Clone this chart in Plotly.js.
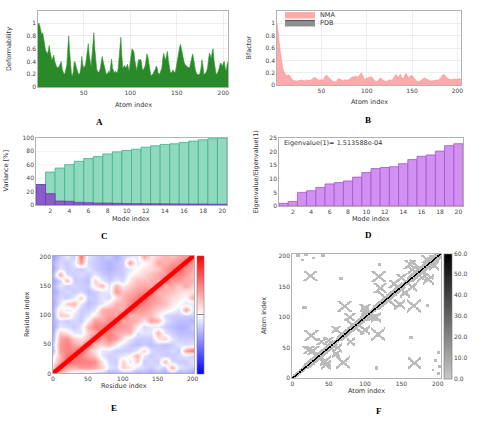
<!DOCTYPE html>
<html><head><meta charset="utf-8">
<script src="https://cdn.plot.ly/plotly-3.0.1.min.js"></script>
<style>html,body{margin:0;padding:0;background:#fff;}#chart{width:485px;height:423px;}</style>
</head><body><div id="chart"></div>
<script>
// ---------- Panel A: deformability per atom ----------
const deformability = [
 0.97,1.0,0.95,0.88,0.82,0.85,0.78,0.68,0.58,0.53,
 0.52,0.56,0.65,0.55,0.47,0.42,0.46,0.5,0.4,0.35,
 0.32,0.3,0.31,0.33,0.37,0.4,0.28,0.22,0.2,0.22,
 0.28,0.35,0.6,0.8,0.55,0.3,0.2,0.18,0.25,0.4,
 0.38,0.32,0.25,0.22,0.2,0.22,0.3,0.48,0.36,0.3,
 0.32,0.35,0.45,0.6,0.68,0.5,0.38,0.32,0.5,0.7,
 0.85,0.6,0.42,0.28,0.25,0.23,0.25,0.3,0.4,0.48,
 0.4,0.32,0.27,0.22,0.2,0.22,0.25,0.22,0.3,0.44,
 0.3,0.24,0.22,0.25,0.24,0.22,0.28,0.45,0.7,0.78,
 0.5,0.3,0.32,0.34,0.3,0.32,0.36,0.28,0.25,0.4,
 0.52,0.6,0.58,0.55,0.42,0.3,0.26,0.35,0.43,0.42,
 0.44,0.4,0.28,0.27,0.3,0.33,0.42,0.52,0.47,0.35,
 0.25,0.2,0.18,0.2,0.22,0.26,0.28,0.33,0.3,0.22,
 0.2,0.22,0.25,0.3,0.45,0.53,0.46,0.42,0.5,0.56,
 0.42,0.3,0.24,0.22,0.25,0.27,0.24,0.22,0.28,0.38,
 0.48,0.55,0.62,0.67,0.6,0.5,0.42,0.38,0.35,0.34,
 0.33,0.32,0.3,0.32,0.38,0.45,0.52,0.45,0.33,0.27,
 0.22,0.2,0.19,0.2,0.22,0.3,0.43,0.35,0.2,0.21,
 0.22,0.25,0.3,0.42,0.53,0.5,0.45,0.55,0.6,0.42,
 0.3,0.22,0.2,0.23,0.27,0.33,0.38,0.36,0.32,0.38,
 0.4,0.3,0.25,0.35,0.4];
// ---------- Panel B: B-factors ----------
const bfactorNMA = [
 1.0,0.9,0.75,0.6,0.48,0.38,0.3,0.24,0.2,0.18,
 0.16,0.15,0.16,0.17,0.15,0.12,0.1,0.085,0.075,0.07,
 0.07,0.065,0.065,0.07,0.075,0.085,0.09,0.085,0.075,0.07,
 0.065,0.07,0.08,0.085,0.08,0.075,0.075,0.08,0.09,0.1,
 0.115,0.125,0.12,0.11,0.09,0.08,0.08,0.085,0.09,0.09,
 0.085,0.09,0.11,0.14,0.16,0.155,0.14,0.12,0.1,0.09,
 0.085,0.07,0.06,0.055,0.05,0.055,0.07,0.09,0.11,0.1,
 0.09,0.08,0.07,0.07,0.08,0.09,0.085,0.08,0.085,0.09,
 0.1,0.11,0.12,0.13,0.14,0.13,0.14,0.15,0.14,0.13,
 0.14,0.16,0.19,0.2,0.17,0.12,0.1,0.09,0.1,0.12,
 0.13,0.13,0.12,0.13,0.14,0.12,0.1,0.08,0.07,0.06,
 0.055,0.06,0.08,0.1,0.12,0.11,0.09,0.08,0.07,0.065,
 0.06,0.065,0.07,0.08,0.09,0.08,0.075,0.08,0.1,0.12,
 0.15,0.17,0.16,0.14,0.12,0.15,0.18,0.14,0.12,0.1,
 0.12,0.16,0.19,0.17,0.14,0.12,0.13,0.15,0.16,0.15,
 0.13,0.11,0.09,0.08,0.07,0.06,0.055,0.06,0.07,0.08,
 0.09,0.1,0.11,0.12,0.11,0.1,0.09,0.08,0.075,0.07,
 0.07,0.065,0.07,0.075,0.08,0.085,0.09,0.085,0.08,0.09,
 0.1,0.12,0.15,0.17,0.18,0.16,0.14,0.12,0.11,0.1,
 0.095,0.09,0.085,0.09,0.095,0.1,0.1,0.1,0.095,0.1,
 0.1,0.1,0.1,0.1,0.1];
const atomIndex = deformability.map((_, i) => i + 1);
// PDB series: listed in the legend, no values visible in the reference (missing = null)
const bfactorPDB = atomIndex.map(() => null);
// ---------- Panels C and D: modes ----------
const modeIndex = [1,2,3,4,5,6,7,8,9,10,11,12,13,14,15,16,17,18,19,20];
const cumulativeVariance = [30.5,49,55,60,65,69,72,76,79,81,83,86,88,90,91,93,95,97,98.5,99.5];
const individualVariance = [30.5,17,6,5.5,4,3.5,3,3,2.5,2.3,2,2,1.9,1.8,1.7,1.6,1.5,1.5,1.3,1.2];
const eigenRatio = [1,1.7,5,5.6,6.8,8.1,8.6,9.2,10.6,12.3,13.7,14.1,14.4,15.5,17,18.2,18.7,20.1,22.1,22.8];
const eigenvalueNote = 'Eigenvalue(1)= 1.513588e-04';
// ---------- Panel E: residue cross-correlation (10-residue bins, lower triangle) ----------
const covBins = [0,10,20,30,40,50,60,70,80,90,100,110,120,130,140,150,160,170,180,190,200];
const covTriangle = [
 [0.6],
 [0.2,0.6],
 [0.05,0.35,0.6],
 [-0.1,0.3,0.55,0.6],
 [-0.3,0.4,0.5,0.5,0.6],
 [-0.2,0.4,0.5,0.35,0.3,0.6],
 [-0.3,0.35,0.45,0.2,0.1,0.25,0.6],
 [-0.3,0.2,0.1,-0.1,-0.1,0.2,0.35,0.6],
 [-0.35,-0.1,-0.15,-0.2,-0.1,0.3,0.5,0.5,0.6],
 [-0.3,-0.15,-0.2,-0.15,-0.2,0.05,0.4,0.35,0.45,0.6],
 [-0.35,0.2,0.2,-0.1,-0.2,-0.1,0.1,0.3,0.4,0.35,0.6],
 [-0.3,0.1,-0.1,0.0,-0.2,-0.2,-0.1,0.3,0.35,0.35,0.3,0.6],
 [-0.35,-0.1,0.2,0.3,-0.1,-0.25,-0.2,-0.1,0.1,0.3,0.3,0.45,0.6],
 [-0.3,-0.15,-0.2,-0.1,0.2,-0.2,-0.2,-0.1,-0.15,0.1,0.3,0.4,0.5,0.6],
 [-0.35,-0.2,-0.15,-0.2,-0.15,-0.25,-0.2,-0.1,-0.1,0.4,0.25,0.3,0.4,0.45,0.6],
 [-0.3,-0.1,-0.2,-0.15,-0.2,-0.2,0.1,0.3,-0.1,0.3,0.05,0.2,0.3,0.35,0.3,0.6],
 [-0.35,-0.2,0.3,-0.2,-0.2,-0.25,0.2,-0.1,-0.2,-0.1,-0.15,0.1,0.25,0.25,0.3,0.3,0.6],
 [-0.3,0.35,-0.15,-0.2,-0.15,-0.2,-0.1,-0.2,-0.25,-0.2,-0.2,0.0,0.1,0.15,0.25,0.35,0.4,0.6],
 [-0.35,-0.1,-0.2,-0.15,-0.2,-0.1,-0.2,-0.25,-0.3,-0.25,-0.2,-0.1,0.0,0.1,0.15,0.2,0.4,0.5,0.6],
 [-0.3,-0.15,-0.2,-0.1,0.4,-0.15,-0.2,-0.25,-0.3,-0.25,-0.2,0.4,-0.1,0.0,0.1,0.35,0.3,0.4,0.45,0.6],
 [-0.4,-0.2,-0.1,-0.2,0.55,-0.1,-0.2,-0.25,-0.2,-0.3,-0.2,-0.1,-0.1,0.35,0.1,0.2,0.3,0.25,0.35,0.4,0.6]];
const residueCount = 203;
// ---------- Panel F: contact map (crosses, dense diagonal stretches and patches) ----------
const atomCount = 205;
const crossX    = [26, 72, 25, 119, 121, 162, 79, 22, 35, 85, 130, 178, 28, 50, 100, 140, 150, 185, 165, 60, 40, 110];
const crossY    = [70, 118, 168, 167, 148, 187, 100, 46, 35, 85, 130, 178, 45, 62, 115, 155, 165, 195, 178, 80, 60, 100];
const crossHalf = [9, 9, 8, 9, 7, 7, 6, 6, 15, 12, 13, 15, 7, 6, 6, 6, 6, 6, 6, 5, 5, 5];
const denseStart = [15, 62, 112, 158];
const denseEnd   = [55, 105, 150, 204];
const denseHalf  = [7, 7, 7, 8];
const patchX0 = [6, 17, 28, 40, 12, 65, 14, 118];
const patchX1 = [10, 21, 31, 45, 15, 69, 19, 121];
const patchY0 = [199, 201, 196, 199, 193, 161, 114, 185];
const patchY1 = [203, 204, 199, 203, 195, 165, 118, 188];
const contactValue = 4, selfValue = 60, bandHalf = 4;

// ---------- build matrices ----------
const covZ = covBins.map((_, i) => covBins.map((_, j) => i >= j ? covTriangle[i][j] : covTriangle[j][i]));
const residues = Array.from({length: residueCount}, (_, i) => i);
const atomsF = Array.from({length: atomCount}, (_, i) => i);
const contactZ = atomsF.map(() => atomsF.map(() => null));
function setC(x, y, v) {
  x = Math.round(x); y = Math.round(y);
  if (x < 0 || y < 0 || x >= atomCount || y >= atomCount) return;
  if (contactZ[y][x] === null || contactZ[y][x] < v) contactZ[y][x] = v;
  if (contactZ[x][y] === null || contactZ[x][y] < v) contactZ[x][y] = v;
}
for (let i = 0; i < atomCount; i++) {
  for (let d = -bandHalf; d <= bandHalf; d++) setC(i + d, i, Math.abs(d) <= 1 ? selfValue : contactValue);
}
denseStart.forEach((s, k) => {
  for (let i = s; i <= denseEnd[k]; i++) for (let d = 2; d <= denseHalf[k]; d++) setC(i + d, i, contactValue);
});
crossX.forEach((cx, k) => {
  const cy = crossY[k], L = crossHalf[k];
  for (let t = -L; t <= L; t++) for (let d = -2; d <= 2; d++) {
    setC(cx + t + d, cy + t, contactValue);
    setC(cx + t + d, cy - t, contactValue);
  }
});
patchX0.forEach((x0, k) => {
  for (let x = x0; x <= patchX1[k]; x++) for (let y = patchY0[k]; y <= patchY1[k]; y++) setC(x, y, contactValue);
});

// ---------- layout helpers ----------
const W = 485, H = 423;
const fx = p => p / W, fy = p => 1 - p / H;
const FONT = 'DejaVu Sans, Verdana, sans-serif';
const tickFont = {family: FONT, size: 6, color: '#444'};
function axis(d, extra) {
  return Object.assign({domain: d, showgrid: true, gridcolor: '#e3e3e3', gridwidth: 0.6, zeroline: false,
    showline: true, mirror: true, linecolor: '#a0a0a0', linewidth: 0.8, ticks: '', tickfont: tickFont,
    fixedrange: true, layer: 'above traces'}, extra);
}
const tick02 = [0, 0.2, 0.4, 0.6, 0.8, 1];
const tick02t = ['0', '0.2', '0.4', '0.6', '0.8', '1'];

const traces = [
  {type: 'scatter', x: atomIndex, y: deformability, mode: 'lines', fill: 'tozeroy',
   fillcolor: '#2a8a2a', line: {color: '#339933', width: 0.6}, xaxis: 'x', yaxis: 'y', showlegend: false, hoverinfo: 'skip'},
  {type: 'scatter', x: atomIndex, y: bfactorNMA, mode: 'lines', fill: 'tozeroy', name: 'NMA',
   fillcolor: 'rgba(255,120,120,0.62)', line: {color: '#ff8c8c', width: 0.6}, xaxis: 'x2', yaxis: 'y2', legend: 'legend'},
  {type: 'scatter', x: atomIndex, y: bfactorPDB, mode: 'lines', fill: 'tozeroy', name: 'PDB',
   fillcolor: '#8e8e8e', line: {color: '#333333', width: 0.8}, xaxis: 'x2', yaxis: 'y2', legend: 'legend2', showlegend: true},
  {type: 'bar', x: modeIndex, y: cumulativeVariance, width: 1, marker: {color: '#8fd9bf', line: {color: '#3db38b', width: 0.8}},
   xaxis: 'x3', yaxis: 'y3', showlegend: false},
  {type: 'bar', x: modeIndex, y: individualVariance, width: 1, marker: {color: '#8a5dc8', line: {color: '#6a3db0', width: 0.8}},
   xaxis: 'x3', yaxis: 'y3', showlegend: false},
  {type: 'bar', x: modeIndex, y: eigenRatio, width: 1, marker: {color: '#d290f0', line: {color: '#a656cf', width: 0.8}},
   xaxis: 'x4', yaxis: 'y4', showlegend: false},
  {type: 'heatmap', x: covBins, y: covBins, z: covZ, zmin: -1, zmax: 1, zsmooth: 'best',
   colorscale: [[0, '#0000ff'], [0.5, '#ffffff'], [1, '#ff0000']], xaxis: 'x5', yaxis: 'y5', hoverinfo: 'skip', showlegend: false,
   colorbar: {x: fx(197), xanchor: 'left', y: fy(313.5), yanchor: 'middle', len: 119 / H, lenmode: 'fraction',
     thickness: 7, thicknessmode: 'pixels', xpad: 0, ypad: 0, outlinewidth: 0.6, outlinecolor: '#777',
     showticklabels: false, ticks: 'inside', tickvals: [0], ticklen: 7, tickcolor: '#666', tickwidth: 0.8}},
  {type: 'scatter', x: residues, y: residues, mode: 'lines', line: {color: '#ff0000', width: 4.5},
   xaxis: 'x5', yaxis: 'y5', showlegend: false, hoverinfo: 'skip'},
  {type: 'heatmap', x: atomsF, y: atomsF, z: contactZ, zmin: 0, zmax: 60, zsmooth: false,
   colorscale: [[0, '#c8c8c8'], [1, '#000000']], xaxis: 'x6', yaxis: 'y6', hoverinfo: 'skip', showlegend: false,
   colorbar: {x: fx(444), xanchor: 'left', y: fy(315), yanchor: 'middle', len: 126 / H, lenmode: 'fraction',
     thickness: 8, thicknessmode: 'pixels', xpad: 0, ypad: 0, outlinewidth: 0.6, outlinecolor: '#777',
     tickvals: [0, 10, 20, 30, 40, 50, 60], tickformat: '.1f', ticks: '', tickfont: tickFont}}
];

function label(text, x, y, opts) {
  return Object.assign({text: text, x: fx(x), y: fy(y), xref: 'paper', yref: 'paper', showarrow: false,
    xanchor: 'center', yanchor: 'middle', font: {family: FONT, size: 6.5, color: '#333'}}, opts || {});
}
function vlabel(text, x, y) { return label(text, x, y, {textangle: -90}); }
function panel(text, x, y) {
  return label(text, x, y, {font: {family: 'Liberation Serif, Times New Roman, serif', size: 9, color: '#000'}, text: '<b>' + text + '</b>'});
}

const layout = {
  width: W, height: H, margin: {l: 0, r: 0, t: 0, b: 0}, paper_bgcolor: '#fff', plot_bgcolor: '#fff',
  barmode: 'overlay', bargap: 0, showlegend: true,
  xaxis: axis([fx(38), fx(228)], {anchor: 'y', range: [1, 205], tickvals: [50, 100, 150, 200]}),
  yaxis: axis([fy(84), fy(7)], {anchor: 'x', range: [0, 1.19], tickvals: tick02, ticktext: tick02t}),
  xaxis2: axis([fx(277), fx(461)], {anchor: 'y2', range: [1, 204], tickvals: [50, 100, 150, 200]}),
  yaxis2: axis([fy(82), fy(7)], {anchor: 'x2', range: [0, 1.2], tickvals: tick02, ticktext: tick02t}),
  xaxis3: axis([fx(36), fx(227)], {anchor: 'y3', range: [0.5, 20.5], tickvals: [2,4,6,8,10,12,14,16,18,20], showgrid: false}),
  yaxis3: axis([fy(203), fy(135)], {anchor: 'x3', range: [0, 100], tickvals: [0,20,40,60,80,100], gridcolor: '#ececec'}),
  xaxis4: axis([fx(279), fx(463)], {anchor: 'y4', range: [0.5, 20.5], tickvals: [2,4,6,8,10,12,14,16,18,20], showgrid: false}),
  yaxis4: axis([fy(204), fy(135)], {anchor: 'x4', range: [0, 25], tickvals: [0,5,10,15,20,25], showgrid: false}),
  xaxis5: axis([fx(53), fx(194)], {anchor: 'y5', range: [0, 202], tickvals: [0,50,100,150,200], showgrid: false}),
  yaxis5: axis([fy(373), fy(254)], {anchor: 'x5', range: [0, 202], tickvals: [0,50,100,150,200], showgrid: false}),
  xaxis6: axis([fx(292), fx(441)], {anchor: 'y6', range: [-0.5, 204.5], tickvals: [0,50,100,150,200], showgrid: false}),
  yaxis6: axis([fy(378), fy(252)], {anchor: 'x6', range: [-0.5, 204.5], tickvals: [0,50,100,150,200], showgrid: false}),
  legend: {x: fx(280), y: fy(-4), xanchor: 'left', yanchor: 'top', bgcolor: 'rgba(0,0,0,0)', borderwidth: 0,
    font: {family: FONT, size: 6.5, color: '#333'}, itemwidth: 30, tracegroupgap: 0},
  legend2: {x: fx(280), y: fy(4), xanchor: 'left', yanchor: 'top', bgcolor: 'rgba(0,0,0,0)', borderwidth: 0,
    font: {family: FONT, size: 6.5, color: '#333'}, itemwidth: 30, tracegroupgap: 0},
  annotations: [
    vlabel('Deformability', 9, 45.5), label('Atom index', 133, 102), panel('A', 99, 119),
    vlabel('Bfactor', 249, 44), label('Atom index', 369, 99), panel('B', 368, 117),
    vlabel('Variance [%]', 6, 169), label('Mode index', 131, 217), panel('C', 104, 234),
    vlabel('Eigenvalue/Eigenvalue(1)', 256, 170), label('Mode index', 371, 217), panel('D', 368, 233),
    label(eigenvalueNote, 282, 140, {xanchor: 'left'}),
    vlabel('Residue index', 27, 313), label('Residue index', 124, 386), panel('E', 114, 408),
    vlabel('Atom index', 264, 315), label('Atom index', 366, 391), panel('F', 379, 411)
  ]
};
Plotly.newPlot('chart', traces, layout, {staticPlot: true, displayModeBar: false});
</script></body></html>
